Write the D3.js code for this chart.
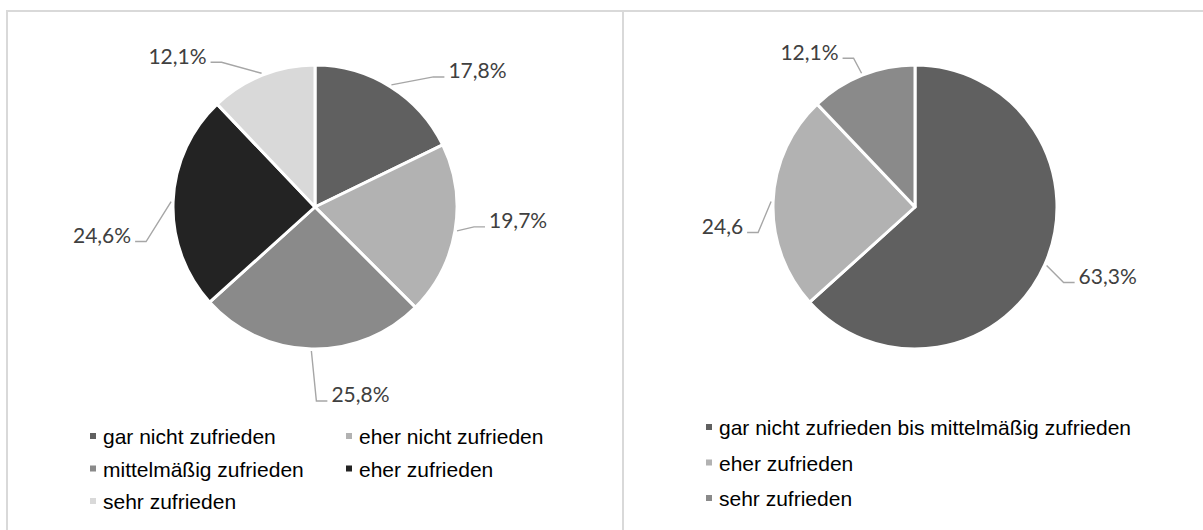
<!DOCTYPE html>
<html>
<head>
<meta charset="utf-8">
<script src="https://cdnjs.cloudflare.com/ajax/libs/d3/7.8.5/d3.min.js"></script>
<style>
    body { margin: 0; background: #fff; }
    .pct { font-family: Lato, 'Open Sans', sans-serif; font-size: 21px; fill: #404040; }
    .legend text { font-family: 'Liberation Sans', Arial, sans-serif; font-size: 21px; fill: #000; }
</style>
</head>
<body>
<script>
// data, left chart
var leftCategories = ['gar nicht zufrieden', 'eher nicht zufrieden', 'mittelmäßig zufrieden', 'eher zufrieden', 'sehr zufrieden'];
var leftValues = [17.8, 19.7, 25.8, 24.6, 12.1];
var leftLabels = ['17,8%', '19,7%', '25,8%', '24,6%', '12,1%'];

// data, right chart
var rightCategories = ['gar nicht zufrieden bis mittelmäßig zufrieden', 'eher zufrieden', 'sehr zufrieden'];
var rightValues = [63.3, 24.6, 12.1];
var rightLabels = ['63,3%', '24,6', '12,1%'];

var leftColors = ['#606060', '#b2b2b2', '#8a8a8a', '#232323', '#d9d9d9'];
var rightColors = ['#606060', '#b2b2b2', '#8a8a8a'];

var w = 1203, h = 530, r = 142;

var svg = d3.select('body')
    .append('svg')
    .attr('width', w)
    .attr('height', h);

// panel frame
var frame = svg.append('g')
    .style('stroke', '#d9d9d9')
    .style('stroke-width', 2);
frame.append('line').attr('x1', 6).attr('x2', w).attr('y1', 11).attr('y2', 11);
frame.append('line').attr('x1', 7).attr('x2', 7).attr('y1', 10).attr('y2', h);
frame.append('line').attr('x1', 623).attr('x2', 623).attr('y1', 10).attr('y2', h);

var pie = d3.pie().sort(null).value(function(d) { return d; });
var arc = d3.arc().innerRadius(0).outerRadius(r);
var edge = d3.arc().innerRadius(r + 2).outerRadius(r + 2);

function drawPie(cx, cy, values, colors, labels, nudge) {
    var g = svg.append('g').attr('transform', 'translate(' + cx + ',' + cy + ')');
    var slices = pie(values);

    g.selectAll('.slice')
        .data(slices)
        .enter()
        .append('path')
        .attr('class', 'slice')
        .attr('d', arc)
        .style('fill', function(d, i) { return colors[i]; })
        .style('stroke', '#fff')
        .style('stroke-width', 3)
        .style('stroke-linejoin', 'round');

    // leader lines: edge point -> elbow -> short horizontal
    slices.forEach(function(d, i) {
        var p = edge.centroid(d);
        var ex = p[0] + nudge[i][0], ey = p[1] + nudge[i][1];
        var dir = nudge[i][0] >= 0 ? 1 : -1;
        var hx = ex + dir * 11;
        g.append('polyline')
            .attr('points', [p, [ex, ey], [hx, ey]].map(function(q) { return q.join(','); }).join(' '))
            .style('fill', 'none')
            .style('stroke', '#a6a6a6')
            .style('stroke-width', 1.4);
        g.append('text')
            .attr('class', 'pct')
            .attr('x', hx + dir * 4)
            .attr('y', ey + 1.5)
            .attr('text-anchor', dir > 0 ? 'start' : 'end')
            .text(labels[i]);
    });
}

drawPie(315, 207, leftValues, leftColors, leftLabels,
    [[42, -8], [17, -4], [5, 50], [-25, 40], [-40, -11]]);
drawPie(915, 207, rightValues, rightColors, rightLabels,
    [[17, 17], [-13, 31], [-8, -15]]);

// legends
function drawLegend(cats, colors, x0, colW, cols, y0, rowH) {
    var lg = svg.append('g').attr('class', 'legend');
    var items = lg.selectAll('.item')
        .data(cats)
        .enter()
        .append('g')
        .attr('class', 'item')
        .attr('transform', function(d, i) {
            return 'translate(' + (x0 + (i % cols) * colW) + ',' + (y0 + Math.floor(i / cols) * rowH) + ')';
        });
    items.append('rect')
        .attr('x', 0)
        .attr('y', -11)
        .attr('width', 6)
        .attr('height', 6)
        .style('fill', function(d, i) { return colors[i]; });
    items.append('text')
        .attr('x', 13)
        .attr('y', 0)
        .text(function(d) { return d; });
}

drawLegend(leftCategories, leftColors, 90, 256, 2, 444, 32.5);
drawLegend(rightCategories, rightColors, 706, 0, 1, 435, 35.5);
</script>
</body>
</html>
